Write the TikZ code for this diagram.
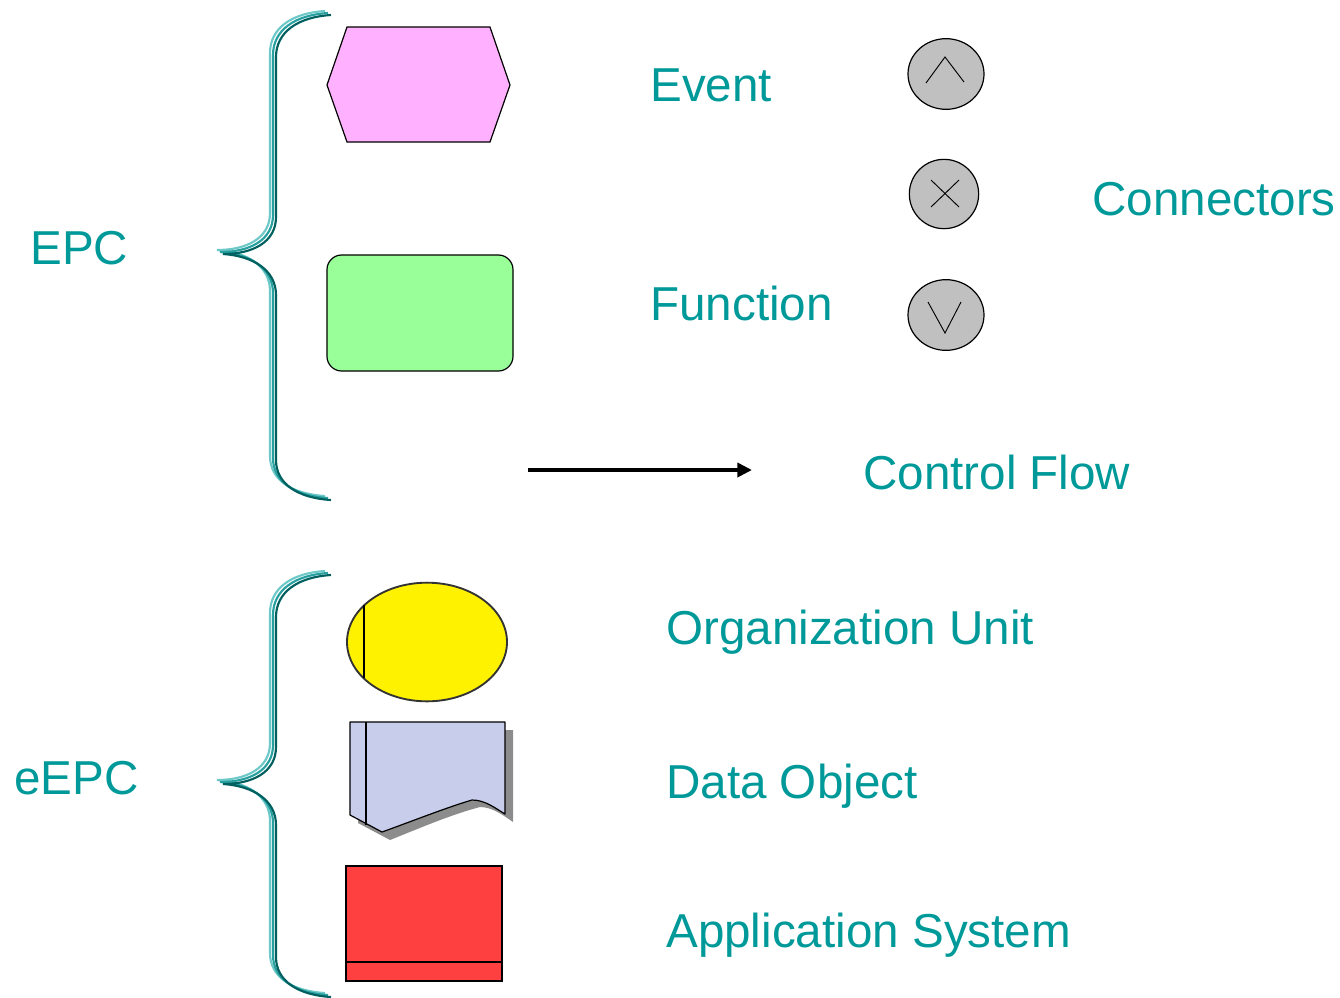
\documentclass[tikz,border=0pt]{standalone}
\usepackage{fontspec}
\setmainfont{Liberation Sans}
\usetikzlibrary{arrows.meta,shapes.geometric}
\definecolor{epcteal}{RGB}{0,153,153}
\definecolor{braceA}{RGB}{110,200,200}
\definecolor{braceB}{RGB}{40,160,160}
\definecolor{braceC}{RGB}{0,95,95}
\definecolor{evfill}{RGB}{255,176,255}
\definecolor{fnfill}{RGB}{153,255,153}
\definecolor{cnfill}{RGB}{192,192,192}
\definecolor{dofill}{RGB}{200,205,235}
\definecolor{asfill}{RGB}{255,64,64}
\newcommand\mybrace[4]{% #1 top y, #2 tip y, #3 bottom y, #4 style
  \draw[#4] (328,#1) .. controls (295,#1+2) and (273,#1+17) .. (273,#1+42)
    -- (273,#2-37) .. controls (273,#2-12) and (250,#2) .. (220,#2)
    .. controls (250,#2+2) and (273,#2+16) .. (273,#2+41)
    -- (273,#3-40) .. controls (273,#3-16) and (295,#3-2) .. (328,#3);}
\begin{document}
\begin{tikzpicture}[x=0.75pt,y=-0.75pt,
  lbl/.style={anchor=base west,inner sep=0pt,text=epcteal,font=\fontsize{35.7}{42}\selectfont},
  shp/.style={draw=black,line width=0.9pt},
  conn/.style={shp,ellipse,fill=cnfill,inner sep=0pt},
  sym/.style={line width=0.7pt,black}]
\useasboundingbox (0,0) rectangle (1340,997);
% braces
\foreach \dx/\dy/\c in {-3/-2/braceA,0/0/braceB,3/2/braceC}{
  \begin{scope}[shift={(\dx,\dy)}]
  \mybrace{13}{252}{498}{\c,line width=1.6pt}
  \mybrace{573}{782}{995}{\c,line width=1.6pt}
  \end{scope}}
% labels
\node[lbl] (epc) at (30,264) {EPC};
\node[lbl] (eepc) at (14,794) {eEPC};
\node[lbl] (tev) at (650,101) {Event};
\node[lbl] (tfn) at (650,320) {Function};
\node[lbl] (tcn) at (1092,215) {Connectors};
\node[lbl] (tcf) at (863,489) {Control Flow};
\node[lbl] (tou) at (666,644) {Organization Unit};
\node[lbl] (tdo) at (666,798) {Data Object};
\node[lbl] (tas) at (666,947) {Application System};
% event
\draw[shp,fill=evfill] (327,85) -- (347,27) -- (490,27) -- (510,85) -- (490,142) -- (347,142) -- cycle;
\coordinate (ev) at (418,85);
% function
\draw[shp,fill=fnfill,rounded corners=11pt] (327,255) rectangle (513,371);
\coordinate (fn) at (420,313);
% connectors
\node[conn,minimum width=57pt,minimum height=53pt] (and) at (946,74) {};
\draw[sym] (926,83) -- (945,57) -- (964,82);
\node[conn,minimum width=52pt,minimum height=52pt] (xor) at (944,194) {};
\draw[sym] (931,180) -- (959,207) (959,180) -- (931,207);
\node[conn,minimum width=57pt,minimum height=53pt] (or) at (946,315) {};
\draw[sym] (928,302) -- (945,333) -- (961,302);
% control flow arrow
\coordinate (cfa) at (528,470);
\coordinate (cfb) at (752,470);
\draw[line width=3.5pt,-{Triangle[length=11pt,width=10.5pt]}] (cfa) -- (cfb);
% organization unit
\node[ellipse,draw=black!80,line width=1.4pt,fill=yellow,minimum width=120pt,minimum height=89pt,inner sep=0pt] (ou) at (427,642) {};
\draw[line width=1.1pt] (364,605) -- (364,678);
% data object
\fill[black!45] (358,730) -- (513,730) -- (513,822) .. controls (503,815) and (492,807) .. (480,807)
  .. controls (450,815) and (420,828) .. (390,840) -- (358,823) -- cycle;
\draw[shp,fill=dofill,line join=round] (350,722) -- (505,722) -- (505,814) .. controls (495,808) and (485,800) .. (472,800)
  .. controls (445,808) and (410,822) .. (382,832) -- (350,815) -- cycle;
\draw[shp] (366,722) -- (366,825);
\coordinate (do) at (427,770);
% application system
\draw[shp,fill=asfill] (346,866) rectangle (502,981);
\draw[shp] (346,962) -- (502,962);
\coordinate (as) at (424,923);
\end{tikzpicture}
\end{document}
